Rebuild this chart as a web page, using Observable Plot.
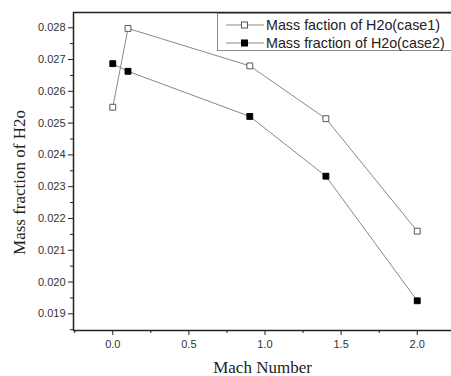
<!DOCTYPE html>
<html>
<head>
<meta charset="utf-8">
<script src="https://cdn.jsdelivr.net/npm/d3@7"></script>
<script src="https://cdn.jsdelivr.net/npm/@observablehq/plot@0.6"></script>
<style>
  html, body { margin: 0; padding: 0; background: #fff; }
  #chart { position: relative; width: 451px; height: 376px; overflow: hidden; }
  #legend {
    position: absolute; left: 217px; top: 13px; width: 240px; height: 38px;
    border: 1px solid #8a8a8a; background: #fff; box-sizing: border-box;
    font-family: Arial, "Liberation Sans", sans-serif; font-size: 14.3px; color: #222;
  }
  .row { position: absolute; left: 0; width: 260px; height: 18px; display: flex; align-items: center; }
  .row svg { display: block; flex-shrink: 0; }
  .row span { margin-left: 1px; white-space: nowrap; }
</style>
</head>
<body>
<div id="chart"></div>
<script>
const mach = [0, 0.1, 0.9, 1.4, 2.0];
const case1 = [0.0255, 0.02798, 0.0268, 0.02514, 0.0216];
const case2 = [0.02687, 0.02663, 0.02521, 0.02333, 0.01941];
const seriesNames = ["Mass faction of H2o(case1)", "Mass fraction of H2o(case2)"];
const xTicks = [0, 0.5, 1.0, 1.5, 2.0];
const xMinorTicks = [-0.25, 0.25, 0.75, 1.25, 1.75];
const yTicks = [0.019, 0.020, 0.021, 0.022, 0.023, 0.024, 0.025, 0.026, 0.027, 0.028];
const yMinorTicks = [0.0185, 0.0195, 0.0205, 0.0215, 0.0225, 0.0235, 0.0245, 0.0255, 0.0265, 0.0275];
const xLabel = "Mach Number";
const yLabel = "Mass fraction of H2o";

const data = [
  ...mach.map((m, i) => ({x: m, y: case1[i], s: "case1"})),
  ...mach.map((m, i) => ({x: m, y: case2[i], s: "case2"}))
];
const xDomain = [-0.258, 2.225];
const yDomain = [0.018475, 0.02848];

const plot = Plot.plot({
  width: 451, height: 376,
  marginLeft: 73, marginTop: 12, marginBottom: 46, marginRight: 0,
  x: {domain: xDomain},
  y: {domain: yDomain},
  style: {fontFamily: "Arial, 'Liberation Sans', sans-serif", fontSize: "11px", color: "#333", background: "#fff"},
  marks: [
    Plot.axisY({ticks: yTicks, tickFormat: d3.format(".3f"), tickSize: 5, tickPadding: 3, label: null, stroke: "#222", fill: "#333"}),
    Plot.axisY({ticks: yMinorTicks, tickFormat: () => "", tickSize: 3, label: null, stroke: "#222"}),
    Plot.axisX({ticks: xTicks, tickFormat: d3.format(".1f"), tickSize: 5, tickPadding: 5, label: null, stroke: "#222", fill: "#333"}),
    Plot.axisX({ticks: xMinorTicks, tickFormat: () => "", tickSize: 3, label: null, stroke: "#222"}),
    Plot.ruleX([xDomain[0]], {stroke: "#222", strokeWidth: 1.5}),
    Plot.ruleY([yDomain[0]], {stroke: "#222", strokeWidth: 1.5}),
    Plot.ruleY([yDomain[1]], {stroke: "#222", strokeWidth: 1.5}),
    Plot.line(data, {x: "x", y: "y", z: "s", stroke: "#888", strokeWidth: 1}),
    Plot.dot(data.filter(d => d.s === "case1"), {x: "x", y: "y", symbol: "square", r: 3.3, fill: "#fff", stroke: "#555", strokeWidth: 1}),
    Plot.dot(data.filter(d => d.s === "case2"), {x: "x", y: "y", symbol: "square", r: 3.3, fill: "#000", stroke: "#000", strokeWidth: 1}),
    Plot.text([xLabel], {frameAnchor: "bottom", dy: 42, dx: 0, fontFamily: "'Liberation Serif', 'Times New Roman', serif", fontSize: 17, fill: "#222"}),
    Plot.text([yLabel], {frameAnchor: "left", textAnchor: "middle", lineAnchor: "middle", rotate: -90, dx: -54, dy: 11, fontFamily: "'Liberation Serif', 'Times New Roman', serif", fontSize: 17, fill: "#222"})
  ]
});
document.getElementById("chart").appendChild(plot);

// legend
const legend = document.createElement("div");
legend.id = "legend";
seriesNames.forEach((name, i) => {
  const row = document.createElement("div");
  row.className = "row";
  row.style.top = (i === 0 ? 2 : 20) + "px";
  const sw = d3.create("svg").attr("width", 47).attr("height", 14);
  sw.append("line").attr("x1", 8).attr("x2", 46).attr("y1", 7).attr("y2", 7).attr("stroke", "#888");
  sw.append("rect").attr("x", 23.5).attr("y", 4).attr("width", 6).attr("height", 6)
    .attr("fill", i === 0 ? "#fff" : "#000").attr("stroke", i === 0 ? "#555" : "#000");
  row.appendChild(sw.node());
  const t = document.createElement("span");
  t.textContent = name;
  row.appendChild(t);
  legend.appendChild(row);
});
document.getElementById("chart").appendChild(legend);
</script>
</body>
</html>
